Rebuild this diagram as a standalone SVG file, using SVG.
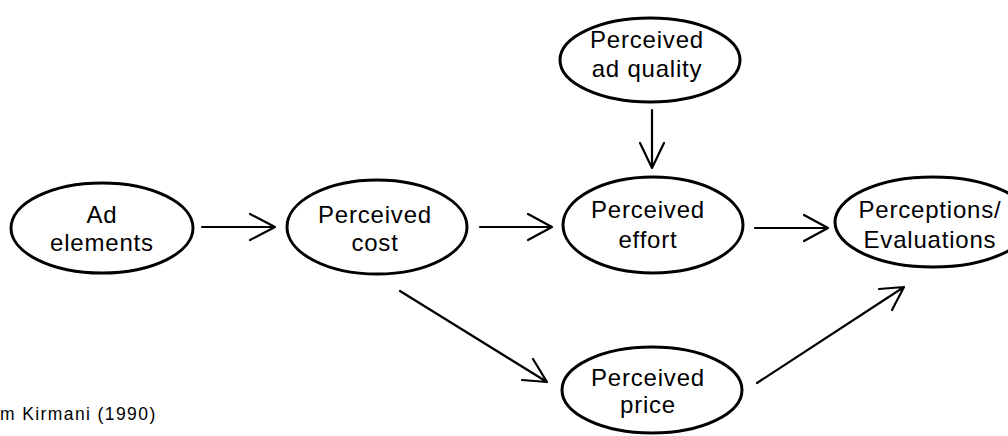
<svg xmlns="http://www.w3.org/2000/svg" width="1008" height="436" viewBox="0 0 1008 436">
<style>
  .node ellipse { fill: #fff; stroke: #000; stroke-width: 3; }
  .node text { font-family: "Liberation Sans", Arial, sans-serif; font-size: 24px; letter-spacing: 0.8px; fill: #000; text-anchor: middle; }
  .conn path { fill: none; stroke: #000; stroke-width: 2.2; stroke-linecap: round; stroke-linejoin: round; }
  .note { font-family: "Liberation Sans", Arial, sans-serif; font-size: 17.5px; letter-spacing: 1.4px; fill: #000; }
</style>
<rect width="1008" height="436" fill="#fff"/>
<g id="connectors" class="conn">
  <path d="M202,227 L275,227 M250,214 L275,227 L250,240"/>
  <path d="M480,227 L552,227 M528,214 L552,227 L528,240"/>
  <path d="M755,228 L828,228 M804,215 L828,228 L804,241"/>
  <path d="M652,110 L652,168 M640,143 L652,168 L664,143"/>
  <path d="M400,291 L547,382 M533,359 L547,382 L522,380"/>
  <path d="M757,383 L904,287 M879,289 L904,287 L892,310"/>
</g>
<g id="ad-elements" class="node">
  <ellipse cx="102" cy="228" rx="91" ry="45"/>
  <text x="102" y="223">Ad</text>
  <text x="102" y="251">elements</text>
</g>
<g id="perceived-cost" class="node">
  <ellipse cx="377" cy="227" rx="90" ry="47"/>
  <text x="375" y="223">Perceived</text>
  <text x="375" y="251">cost</text>
</g>
<g id="perceived-ad-quality" class="node">
  <ellipse cx="650" cy="60" rx="90" ry="42"/>
  <text x="647" y="48">Perceived</text>
  <text x="647" y="77">ad quality</text>
</g>
<g id="perceived-effort" class="node">
  <ellipse cx="653" cy="225" rx="90" ry="48"/>
  <text x="648" y="218">Perceived</text>
  <text x="648" y="248">effort</text>
</g>
<g id="perceptions-evaluations" class="node">
  <ellipse cx="933" cy="222" rx="98" ry="45"/>
  <text x="930" y="218">Perceptions/</text>
  <text x="930" y="248">Evaluations</text>
</g>
<g id="perceived-price" class="node">
  <ellipse cx="652" cy="390" rx="90" ry="43"/>
  <text x="648" y="386">Perceived</text>
  <text x="648" y="413">price</text>
</g>
<text class="note" x="0" y="420">m Kirmani (1990)</text>
</svg>
